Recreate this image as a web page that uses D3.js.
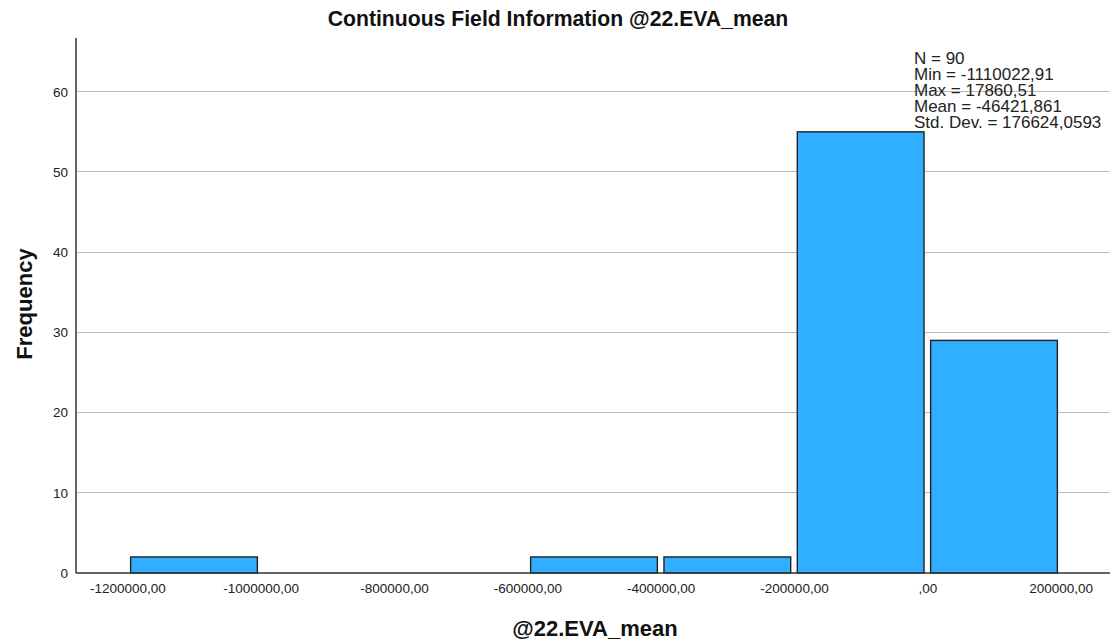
<!DOCTYPE html>
<html>
<head>
<meta charset="utf-8">
<script src="https://cdn.jsdelivr.net/npm/d3@7/dist/d3.min.js"></script>
<style>
  html, body { margin: 0; padding: 0; background: #fff; }
  svg { display: block; font-family: "Liberation Sans", Arial, sans-serif; }
</style>
</head>
<body>
<svg id="chart" width="1110" height="642"></svg>
<script>
// Histogram bins (lower edge, upper edge) and frequencies
const binStart = [-1200000, -600000, -400000, -200000, 0];
const binEnd   = [-1000000, -400000, -200000, 0, 200000];
const counts   = [2, 2, 2, 55, 29];

const xTicks = [-1200000, -1000000, -800000, -600000, -400000, -200000, 0, 200000];
const yTicks = [0, 10, 20, 30, 40, 50, 60];

const statLines = [
  "N = 90",
  "Min = -1110022,91",
  "Max = 17860,51",
  "Mean = -46421,861",
  "Std. Dev. = 176624,0593"
];

const svg = d3.select("#chart");
const plotLeft = 76, plotRight = 1110, plotTop = 38, plotBottom = 573;

const x = d3.scaleLinear().domain([-1277000, 274000]).range([plotLeft, plotRight]);
const y = d3.scaleLinear().domain([0, 66.7]).range([plotBottom, plotTop]);

const fmt = v => {
  const s = d3.format(".2f")(Math.abs(v)).replace(".", ",");
  const body = s.startsWith("0,") ? s.slice(1) : s;
  return (v < 0 ? "-" : "") + body;
};

// gridlines
svg.append("g")
  .selectAll("line")
  .data(yTicks.filter(d => d > 0))
  .join("line")
  .attr("x1", plotLeft).attr("x2", plotRight)
  .attr("y1", d => y(d)).attr("y2", d => y(d))
  .attr("stroke", "#b8b8b8").attr("stroke-width", 1)
  .attr("shape-rendering", "crispEdges");

// bars
const bins = counts.map((c, i) => ({ x0: binStart[i], x1: binEnd[i], n: c }));
const pad = 3.3;
svg.append("g")
  .selectAll("rect")
  .data(bins)
  .join("rect")
  .attr("x", d => x(d.x0) + pad)
  .attr("width", d => x(d.x1) - x(d.x0) - 2 * pad)
  .attr("y", d => y(d.n))
  .attr("height", d => y(0) - y(d.n))
  .attr("fill", "#30aeff")
  .attr("stroke", "#222")
  .attr("stroke-width", 1.4);

// y axis
const yAxis = d3.axisLeft(y).tickValues(yTicks).tickSize(0).tickPadding(8).tickFormat(d3.format("d"));
const gy = svg.append("g").attr("transform", `translate(${plotLeft},0)`).call(yAxis);
gy.select(".domain").attr("d", `M0,${plotTop}V${plotBottom}`).attr("stroke", "#333").attr("stroke-width", 1.5);
gy.selectAll("text").attr("font-size", 13.5).attr("fill", "#222")
  .attr("font-family", "'Liberation Sans', Arial, sans-serif");

// x axis
const xAxis = d3.axisBottom(x).tickValues(xTicks).tickSize(0).tickPadding(10).tickFormat(fmt);
const gx = svg.append("g").attr("transform", `translate(0,${plotBottom})`).call(xAxis);
gx.select(".domain").attr("d", `M${plotLeft},0H${plotRight}`).attr("stroke", "#333").attr("stroke-width", 1.5);
gx.selectAll("text").attr("font-size", 13.5).attr("fill", "#222")
  .attr("font-family", "'Liberation Sans', Arial, sans-serif");

// title
svg.append("text")
  .attr("x", 558).attr("y", 26)
  .attr("text-anchor", "middle")
  .attr("font-size", 21.2).attr("font-weight", "bold").attr("fill", "#111")
  .text("Continuous Field Information @22.EVA_mean");

// axis titles
svg.append("text")
  .attr("transform", "translate(32,304) rotate(-90)")
  .attr("text-anchor", "middle")
  .attr("font-size", 22).attr("font-weight", "bold").attr("fill", "#111")
  .text("Frequency");

svg.append("text")
  .attr("x", 595).attr("y", 636)
  .attr("text-anchor", "middle")
  .attr("font-size", 22).attr("font-weight", "bold").attr("fill", "#111")
  .text("@22.EVA_mean");

// summary statistics
svg.append("g")
  .selectAll("text")
  .data(statLines)
  .join("text")
  .attr("x", 914)
  .attr("y", (d, i) => 64 + i * 16)
  .attr("font-size", 17).attr("fill", "#222")
  .text(d => d);
</script>
</body>
</html>
